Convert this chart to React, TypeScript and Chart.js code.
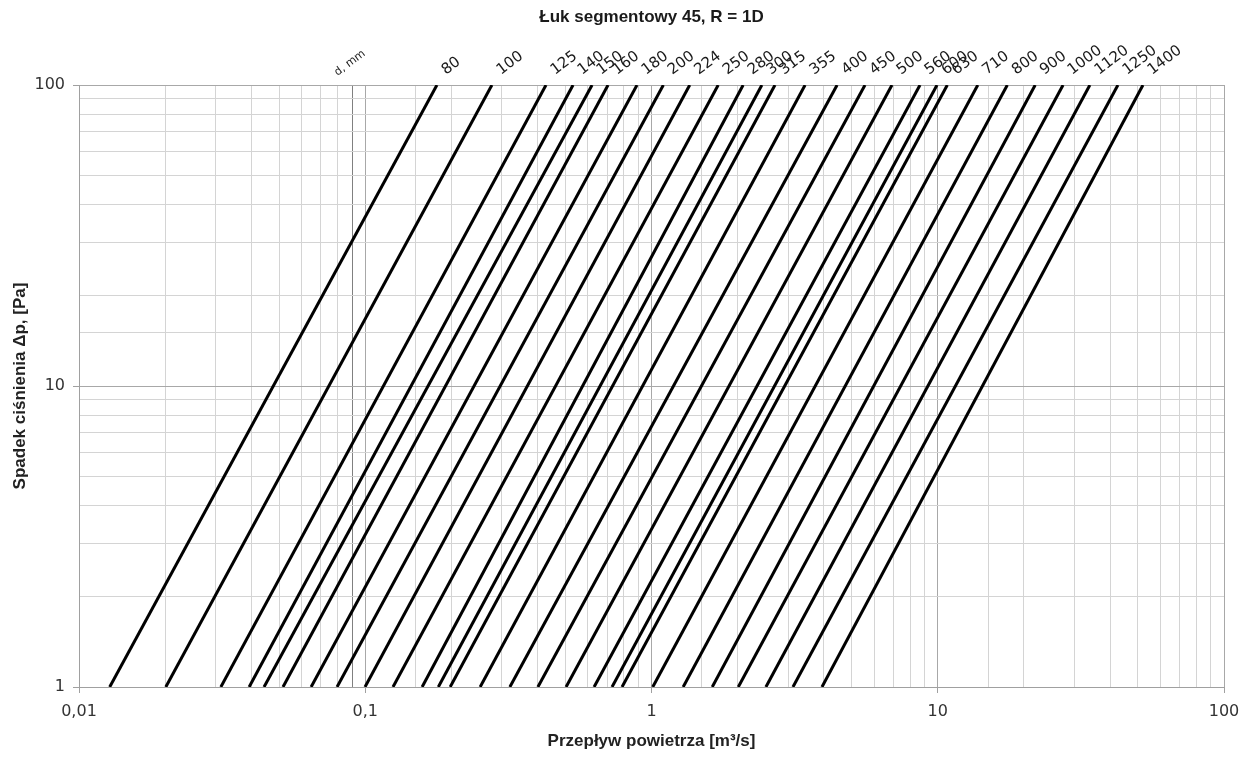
import React, { useEffect, useRef } from "react";
import { Chart, registerables } from "chart.js";

Chart.register(...registerables);

const chartTitle = "Łuk segmentowy 45, R = 1D";
const xAxisTitle = "Przepływ powietrza [m³/s]";
const yAxisTitle = "Spadek ciśnienia Δp, [Pa]";
const diameterCaption = "d, mm";

// duct diameters, mm
const diameters = [80, 100, 125, 140, 150, 160, 180, 200, 224, 250, 280, 300, 315, 355, 400, 450, 500, 560, 600, 630, 710, 800, 900, 1000, 1120, 1250, 1400];
// air flow [m3/s] at Δp = 1 Pa
const flowAt1Pa = [0.0128, 0.0201, 0.0313, 0.0393, 0.0443, 0.0516, 0.0647, 0.0797, 0.0998, 0.125, 0.158, 0.18, 0.198, 0.252, 0.32, 0.401, 0.503, 0.63, 0.728, 0.789, 1.01, 1.29, 1.63, 2.01, 2.51, 3.12, 3.94];
// air flow [m3/s] at Δp = 100 Pa
const flowAt100Pa = [0.178, 0.277, 0.428, 0.532, 0.62, 0.705, 0.89, 1.1, 1.36, 1.71, 2.09, 2.43, 2.7, 3.44, 4.45, 5.57, 6.92, 8.67, 9.94, 10.8, 13.8, 17.5, 21.9, 27.4, 34.0, 42.6, 52.1];
const pressureLow = 1;
const pressureHigh = 100;

const xMajorTicks = [0.01, 0.1, 1, 10, 100];
const xTickLabels = ["0,01", "0,1", "1", "10", "100"];
const yMajorTicks = [1, 10, 100];
const yTickLabels = ["1", "10", "100"];
const captionFlow = 0.08;
const darkGridFlow = 0.09;

const near = (a: number, b: number) => Math.abs(a - b) < b * 1e-6;
const isMajor = (v: number, list: number[]) => list.some((m) => near(v, m));

const labelPlugin = {
  id: "lineLabels",
  afterDatasetsDraw(chart: any) {
    const { ctx, chartArea, scales } = chart;
    const x = scales.x;
    const y = scales.y;
    ctx.save();
    ctx.fillStyle = "#1a1a1a";
    ctx.font = 'bold 17px "Liberation Sans", Arial, sans-serif';
    ctx.textAlign = "center";
    ctx.textBaseline = "middle";
    ctx.fillText(chartTitle, (chartArea.left + chartArea.right) / 2, 9);

    const angle = (-37 * Math.PI) / 180;
    ctx.textAlign = "left";
    ctx.textBaseline = "alphabetic";
    ctx.font = '15px "DejaVu Sans", sans-serif';
    chart.data.datasets.forEach((ds: any) => {
      const p = ds.data[ds.data.length - 1];
      const px = x.getPixelForValue(p.x);
      const py = y.getPixelForValue(p.y);
      ctx.save();
      ctx.translate(px + 9, py - 10);
      ctx.rotate(angle);
      ctx.fillText(ds.label, 0, 0);
      ctx.restore();
    });
    ctx.font = '11px "DejaVu Sans", sans-serif';
    ctx.save();
    ctx.translate(x.getPixelForValue(captionFlow), chartArea.top - 9);
    ctx.rotate(angle);
    ctx.fillText(diameterCaption, 0, 0);
    ctx.restore();
    ctx.restore();
  },
};

export default function App() {
  const ref = useRef<HTMLCanvasElement | null>(null);
  useEffect(() => {
    if (!ref.current) return;
    const datasets = diameters.map((d, i) => ({
      label: String(d),
      data: [
        { x: flowAt1Pa[i], y: pressureLow },
        { x: flowAt100Pa[i], y: pressureHigh },
      ],
      borderColor: "#000",
      borderWidth: 3,
      pointRadius: 0,
      fill: false,
      tension: 0,
    }));
    const tickFont = { family: '"DejaVu Sans", sans-serif', size: 16 };
    const titleFont = { family: '"Liberation Sans", Arial, sans-serif', size: 17, weight: "bold" as const };
    const chart = new Chart(ref.current, {
      type: "line",
      data: { datasets },
      plugins: [labelPlugin],
      options: {
        animation: false,
        responsive: true,
        maintainAspectRatio: false,
        layout: { padding: { top: 77, right: 16, left: 0, bottom: 0 } },
        plugins: { legend: { display: false }, tooltip: { enabled: false }, title: { display: false } },
        scales: {
          x: {
            type: "logarithmic",
            min: 0.01,
            max: 100,
            afterFit: (s: any) => {
              s.height = 65;
              s.paddingLeft = 0;
              s.paddingRight = 0;
            },
            border: { color: "#a0a0a0" },
            grid: {
              color: (c: any) => {
                const v = c.tick?.value;
                if (v === undefined) return "#d4d4d4";
                if (near(v, darkGridFlow)) return "#808080";
                return isMajor(v, xMajorTicks) ? "#a8a8a8" : "#d4d4d4";
              },
              tickColor: (c: any) => (c.tick && isMajor(c.tick.value, xMajorTicks) ? "#a0a0a0" : "rgba(0,0,0,0)"),
              tickLength: 6,
            },
            ticks: {
              autoSkip: false,
              maxRotation: 0,
              padding: 9,
              color: "#333",
              font: tickFont,
              callback: (v: any) => {
                const idx = xMajorTicks.findIndex((m) => near(Number(v), m));
                return idx >= 0 ? xTickLabels[idx] : "";
              },
            },
            title: { display: true, text: xAxisTitle, color: "#222", font: titleFont, padding: { top: 0, bottom: 0 } },
          },
          y: {
            type: "logarithmic",
            min: 1,
            max: 100,
            afterFit: (s: any) => {
              s.width = 71;
            },
            border: { color: "#a0a0a0" },
            grid: {
              color: (c: any) => {
                const v = c.tick?.value;
                if (v === undefined) return "#d4d4d4";
                return isMajor(v, yMajorTicks) ? "#a8a8a8" : "#d4d4d4";
              },
              tickColor: (c: any) => (c.tick && isMajor(c.tick.value, yMajorTicks) ? "#a0a0a0" : "rgba(0,0,0,0)"),
              tickLength: 6,
            },
            ticks: {
              autoSkip: false,
              padding: 8,
              color: "#333",
              font: tickFont,
              callback: (v: any) => {
                const idx = yMajorTicks.findIndex((m) => near(Number(v), m));
                return idx >= 0 ? yTickLabels[idx] : "";
              },
            },
            title: { display: true, text: yAxisTitle, color: "#222", font: titleFont, padding: { top: 2, bottom: 0 } },
          },
        },
      },
    });
    return () => chart.destroy();
  }, []);
  return (
    <div style={{ position: "relative", width: 1232, height: 744 }}>
      <canvas ref={ref} />
    </div>
  );
}
